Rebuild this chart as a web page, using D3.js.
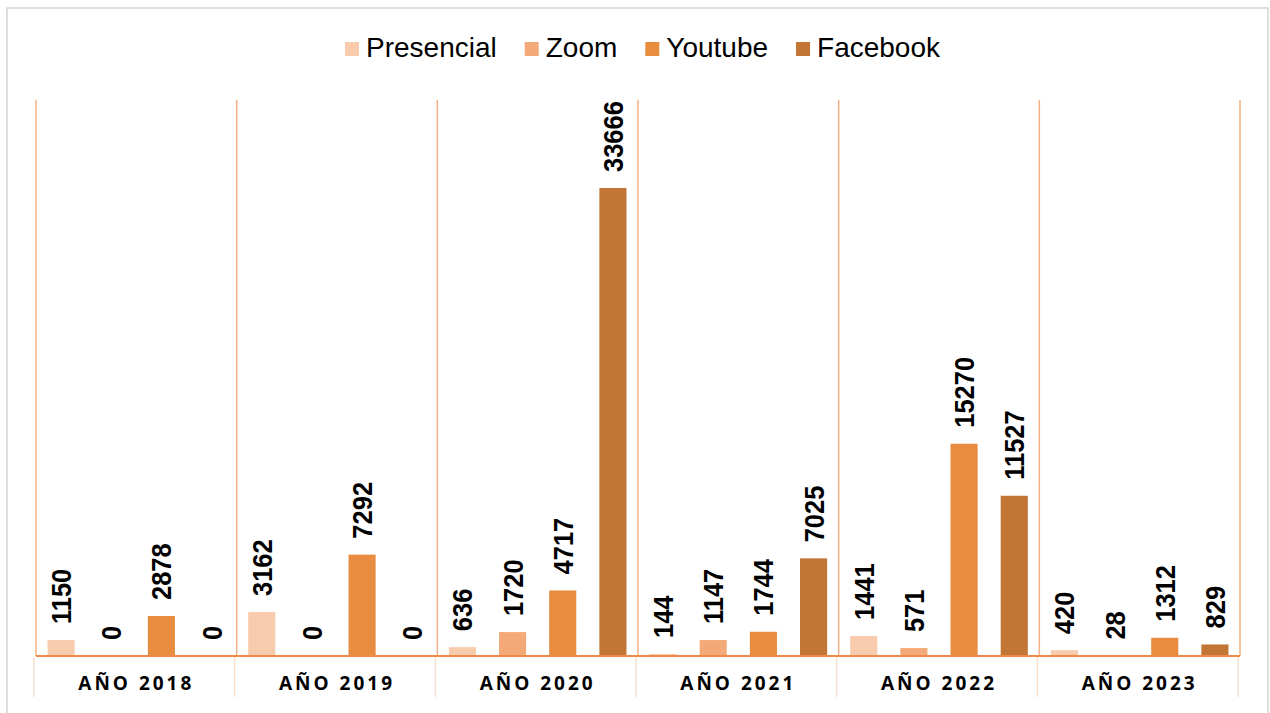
<!DOCTYPE html>
<html>
<head>
<meta charset="utf-8">
<script src="https://cdn.jsdelivr.net/npm/d3@7"></script>
<style>
  html, body { margin: 0; padding: 0; background: #fff; }
  svg { display: block; }
</style>
</head>
<body>
<svg id="chart" width="1270" height="713"></svg>
<script>
const categories = ["AÑO 2018", "AÑO 2019", "AÑO 2020", "AÑO 2021", "AÑO 2022", "AÑO 2023"];
const seriesNames = ["Presencial", "Zoom", "Youtube", "Facebook"];
const presencial = [1150, 3162, 636, 144, 1441, 420];
const zoom = [0, 0, 1720, 1147, 571, 28];
const youtube = [2878, 7292, 4717, 1744, 15270, 1312];
const facebook = [0, 0, 33666, 7025, 11527, 829];
const seriesColors = ["#F8CBAD", "#F4AA78", "#E88C40", "#C27534"];
const yMax = 40000;

const seriesValues = [presencial, zoom, youtube, facebook];
const svg = d3.select("#chart");

// outer border
svg.append("rect").attr("x", 7).attr("y", 8).attr("width", 1261).attr("height", 720)
  .attr("fill", "#fff").attr("stroke", "#d9d9d9").attr("stroke-width", 1.7);

const plotL = 36, plotR = 1240, plotT = 100, plotB = 656;
const x0 = d3.scaleBand().domain(categories).range([plotL, plotR]).padding(0);
const x1 = d3.scaleBand().domain(seriesNames).range([0, x0.bandwidth()]).paddingInner(0.46).paddingOuter(0.23);
const y = d3.scaleLinear().domain([0, yMax]).range([plotB, plotT]);

// vertical separator lines inside plot
const bounds = categories.map(c => x0(c)).concat([plotR]);
svg.append("g").selectAll("line").data(bounds).join("line")
  .attr("x1", d => d).attr("x2", d => d)
  .attr("y1", plotT).attr("y2", plotB)
  .attr("stroke", "#F4B183").attr("stroke-width", 1.5);

// lower tick separators
svg.append("g").selectAll("line").data(bounds).join("line")
  .attr("x1", d => d - 2).attr("x2", d => d - 2)
  .attr("y1", plotB + 1).attr("y2", 697)
  .attr("stroke", "#FBE0CE").attr("stroke-width", 1.5);

// bars
const rows = [];
categories.forEach((c, i) => {
  seriesNames.forEach((s, j) => rows.push({ cat: c, ser: s, val: seriesValues[j][i], color: seriesColors[j] }));
});

svg.append("g").selectAll("rect").data(rows).join("rect")
  .attr("x", d => x0(d.cat) + x1(d.ser))
  .attr("y", d => y(d.val))
  .attr("width", x1.bandwidth())
  .attr("height", d => y(0) - y(d.val))
  .attr("fill", d => d.color);

// baseline
svg.append("line").attr("x1", plotL).attr("x2", plotR).attr("y1", plotB).attr("y2", plotB)
  .attr("stroke", "#EE8A48").attr("stroke-width", 2);

// data labels
svg.append("g").selectAll("text").data(rows).join("text")
  .attr("transform", d => `translate(${x0(d.cat) + x1(d.ser) + x1.bandwidth() / 2},${y(d.val) - 16}) rotate(-90) scale(1,1.12)`)
  .attr("text-anchor", "start")
  .attr("dominant-baseline", "central")
  .attr("font-family", "Liberation Sans, Arial, sans-serif")
  .attr("font-weight", "bold")
  .attr("font-size", 25.5)
  .attr("fill", "#000")
  .text(d => d.val);

// category labels
svg.append("g").selectAll("text").data(categories).join("text")
  .attr("x", d => x0(d) + x0.bandwidth() / 2)
  .attr("y", 690)
  .attr("text-anchor", "middle")
  .attr("font-family", "Open Sans, sans-serif")
  .attr("font-weight", "bold")
  .attr("font-size", 19)
  .attr("letter-spacing", 3)
  .attr("fill", "#000")
  .text(d => d);

// legend
const legend = svg.append("g");
const items = legend.selectAll("g").data(seriesNames).join("g");
items.append("rect").attr("width", 14).attr("height", 14).attr("y", 42)
  .attr("fill", (d, i) => seriesColors[i]);
items.append("text").attr("x", 21).attr("y", 57)
  .attr("font-family", "Liberation Sans, Arial, sans-serif")
  .attr("font-size", 28)
  .attr("fill", "#000")
  .text(d => d);
let widths = [];
items.each(function () { widths.push(this.querySelector("text").getComputedTextLength() + 21); });
const gap = 28;
const total = d3.sum(widths) + gap * (widths.length - 1);
let cx = 642.5 - total / 2;
items.attr("transform", (d, i) => { const t = `translate(${cx},0)`; cx += widths[i] + gap; return t; });
</script>
</body>
</html>
